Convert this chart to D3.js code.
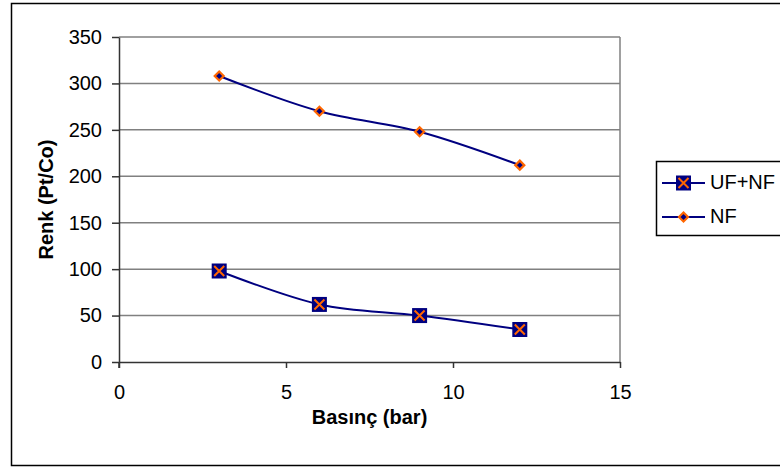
<!DOCTYPE html>
<html><head><meta charset="utf-8">
<script src="https://cdn.jsdelivr.net/npm/d3@7"></script>
<style>body{margin:0;background:#fff}svg{display:block}text{font-family:"Liberation Sans",Arial,sans-serif}</style>
</head><body>
<svg id="c" width="780" height="468"></svg>
<script>
const pressure = [3, 6, 9, 12];
const ufnf = [98, 62, 50, 35];
const nf = [308, 270, 248, 212];
const xTicks = [0, 5, 10, 15];
const yTicks = [0, 50, 100, 150, 200, 250, 300, 350];
const seriesNames = ["UF+NF", "NF"];

const svg = d3.select("#c");
const L = 119, R = 620, T = 37, B = 362;
const x = d3.scaleLinear().domain([0, 15]).range([L, R]);
const y = d3.scaleLinear().domain([0, 350]).range([B, T]);
const navy = "#000080", orange = "#FF6600";

svg.append("rect").attr("x", 11.5).attr("y", 3.5).attr("width", 780).attr("height", 462)
  .attr("fill", "#fff").attr("stroke", "#000").attr("stroke-width", 1.5);

// gridlines
svg.append("g").selectAll("line").data(yTicks.filter(d => d > 0)).join("line")
  .attr("x1", L).attr("x2", R).attr("y1", d => y(d)).attr("y2", d => y(d))
  .attr("stroke", "#808080").attr("stroke-width", 1.5);
svg.append("line").attr("x1", R).attr("x2", R).attr("y1", T).attr("y2", B)
  .attr("stroke", "#808080").attr("stroke-width", 1.5);

const xAxis = svg.append("g").attr("transform", `translate(0,${B})`)
  .call(d3.axisBottom(x).tickValues(xTicks).tickSize(6).tickPadding(17).tickSizeOuter(0));
const yAxis = svg.append("g").attr("transform", `translate(${L},0)`)
  .call(d3.axisLeft(y).tickValues(yTicks).tickSize(7).tickPadding(10).tickSizeOuter(0));
[xAxis, yAxis].forEach(g => {
  g.select(".domain").attr("stroke", "#333").attr("stroke-width", 1.5);
  g.selectAll(".tick line").attr("stroke", "#333").attr("stroke-width", 1.5);
  g.selectAll(".tick text").attr("font-size", 20).attr("fill", "#000")
   .attr("font-family", "Liberation Sans, Arial, sans-serif");
});
svg.append("line").attr("x1", L).attr("x2", L).attr("y1", B).attr("y2", B + 6).attr("stroke", "#333").attr("stroke-width", 1.5);

svg.append("text").attr("x", (L + R) / 2).attr("y", 424).attr("text-anchor", "middle")
  .attr("font-size", 20).attr("font-weight", "bold").text("Basınç (bar)");
svg.append("text").attr("transform", `translate(53,${(T + B) / 2}) rotate(-90)`).attr("text-anchor", "middle")
  .attr("font-size", 20).attr("font-weight", "bold").text("Renk (Pt/Co)");

const line = d3.line().x(d => x(d[0])).y(d => y(d[1])).curve(d3.curveCatmullRom.alpha(0.5));
const data = [pressure.map((p, i) => [p, ufnf[i]]), pressure.map((p, i) => [p, nf[i]])];
data.forEach(s => svg.append("path").attr("d", line(s)).attr("fill", "none").attr("stroke", navy).attr("stroke-width", 2));

function square(g, cx, cy) {
  g.append("rect").attr("x", cx - 7.5).attr("y", cy - 7.5).attr("width", 15).attr("height", 15).attr("fill", navy);
  g.append("path").attr("d", `M${cx-5},${cy-5}L${cx+5},${cy+5}M${cx+5},${cy-5}L${cx-5},${cy+5}`)
    .attr("stroke", orange).attr("stroke-width", 2);
}
function diamond(g, cx, cy) {
  g.append("path").attr("d", `M${cx},${cy-4.5}L${cx+4.5},${cy}L${cx},${cy+4.5}L${cx-4.5},${cy}Z`)
    .attr("fill", navy).attr("stroke", orange).attr("stroke-width", 2.2);
}
const mk = svg.append("g");
data[0].forEach(d => square(mk, x(d[0]), y(d[1])));
data[1].forEach(d => diamond(mk, x(d[0]), y(d[1])));

// legend
const lg = svg.append("g");
lg.append("rect").attr("x", 656.5).attr("y", 161.5).attr("width", 140).attr("height", 74)
  .attr("fill", "#fff").attr("stroke", "#000").attr("stroke-width", 1.5);
const rows = [183, 217];
rows.forEach((ry, i) => {
  lg.append("line").attr("x1", 662).attr("x2", 705).attr("y1", ry).attr("y2", ry).attr("stroke", navy).attr("stroke-width", 2);
  if (i === 0) square(lg, 683.5, ry); else diamond(lg, 683.5, ry);
  lg.append("text").attr("x", 710).attr("y", ry + 6).attr("font-size", 20).text(seriesNames[i]);
});
</script>
</body></html>
